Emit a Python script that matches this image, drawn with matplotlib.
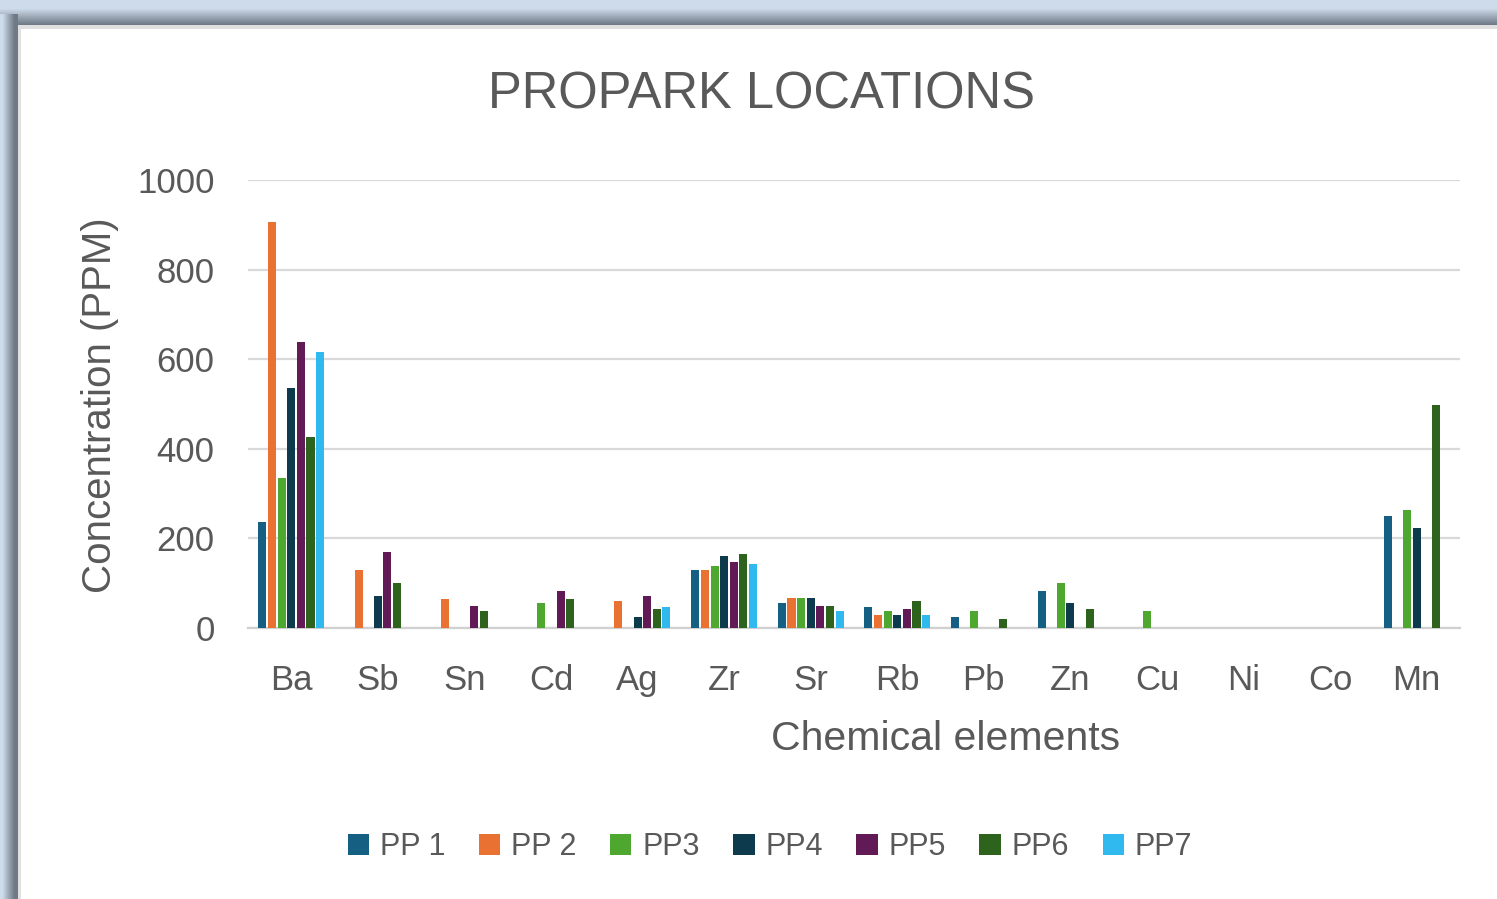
import numpy as np
import matplotlib
matplotlib.use("Agg")
import matplotlib.pyplot as plt

# Данные
elements = ["Ba", "Sb", "Sn", "Cd", "Ag", "Zr", "Sr", "Rb", "Pb", "Zn", "Cu", "Ni", "Co", "Mn"]
series_names = ["PP 1", "PP 2", "PP3", "PP4", "PP5", "PP6", "PP7"]

pp1 = [237, 0, 0, 0, 0, 129, 55, 46, 24, 82, 0, 0, 0, 250]
pp2 = [907, 129, 64, 0, 60, 129, 68, 28, 0, 0, 0, 0, 0, 0]
pp3 = [334, 0, 0, 55, 0, 138, 68, 37, 37, 100, 37, 0, 0, 263]
pp4 = [536, 72, 0, 0, 24, 161, 68, 28, 0, 55, 0, 0, 0, 224]
pp5 = [638, 170, 50, 82, 72, 147, 50, 42, 0, 0, 0, 0, 0, 0]
pp6 = [426, 100, 37, 64, 42, 165, 50, 60, 19, 42, 0, 0, 0, 498]
pp7 = [615, 0, 0, 0, 46, 143, 37, 28, 0, 0, 0, 0, 0, 0]
series = [pp1, pp2, pp3, pp4, pp5, pp6, pp7]

colors = ["#156082", "#E97132", "#4EA72E", "#0E3A4E", "#621A56", "#2E631D", "#2FB9EE"]
text_color = "#595959"
font = "Liberation Sans"

W, H = 1497, 899
fig = plt.figure(figsize=(W / 100, H / 100), dpi=100)

# Фон: рамка окна с тенью
bg = np.ones((H, W, 3))
light = np.array([0.81, 0.86, 0.92])
dark = np.array([0.44, 0.48, 0.53])
for r in range(26):
    t = min(1.0, max(0.0, (r - 8) / 16))
    bg[r, :] = light * (1 - t) + dark * t
bg[25:29, 18:] = [0.88, 0.88, 0.88]
for c in range(18):
    t = min(1.0, max(0.0, (c - 2) / 12))
    bg[14:, c] = light * (1 - t) + dark * t
bg[26:, 18:21] = [0.88, 0.88, 0.88]
bax = fig.add_axes([0, 0, 1, 1], zorder=-10)
bax.imshow(bg, aspect="auto", interpolation="bilinear")
bax.axis("off")

# Область графика
ax = fig.add_axes([248 / W, (H - 628) / H, (1460 - 248) / W, (628 - 180) / H])
ax.set_facecolor("none")
x = np.arange(len(elements))
slot = 0.111
bw = 0.093
for i, (vals, name) in enumerate(zip(series, series_names)):
    ax.bar(x + (i - 3) * slot, vals, width=bw, color=colors[i], label=name, zorder=3)

ax.set_xlim(-0.5, len(elements) - 0.5)
ax.set_ylim(0, 1000)
ax.set_yticks(range(0, 1001, 200))
ax.set_xticks(x)
ax.set_xticklabels(elements)
ax.grid(axis="y", color="#d9d9d9", linewidth=1.6, zorder=0)
for s in ["top", "right", "left"]:
    ax.spines[s].set_visible(False)
ax.spines["bottom"].set_color("#d0d0d0")
ax.spines["bottom"].set_linewidth(1.6)
ax.tick_params(axis="both", length=0, labelsize=25, labelcolor=text_color)
ax.tick_params(axis="y", pad=24)
ax.tick_params(axis="x", pad=26)
for lbl in ax.get_xticklabels() + ax.get_yticklabels():
    lbl.set_fontfamily(font)

fig.text(762 / W, 1 - 95 / H, "PROPARK LOCATIONS", ha="center", va="center",
         fontsize=36.5, color=text_color, family=font)
fig.text(946 / W, 1 - 739 / H, "Chemical elements", ha="center", va="center",
         fontsize=29.5, color=text_color, family=font)
fig.text(100 / W, 1 - 405 / H, "Concentration (PPM)", ha="center", va="center",
         rotation=90, fontsize=29, color=text_color, family=font)

fig.legend(loc="center", bbox_to_anchor=(770 / W, 1 - 847 / H), ncol=7, frameon=False,
           prop={"family": font, "size": 22}, labelcolor=text_color,
           handlelength=0.7, handleheight=0.7, handletextpad=0.35, columnspacing=1.1)

plt.savefig("out.png", dpi=100)
